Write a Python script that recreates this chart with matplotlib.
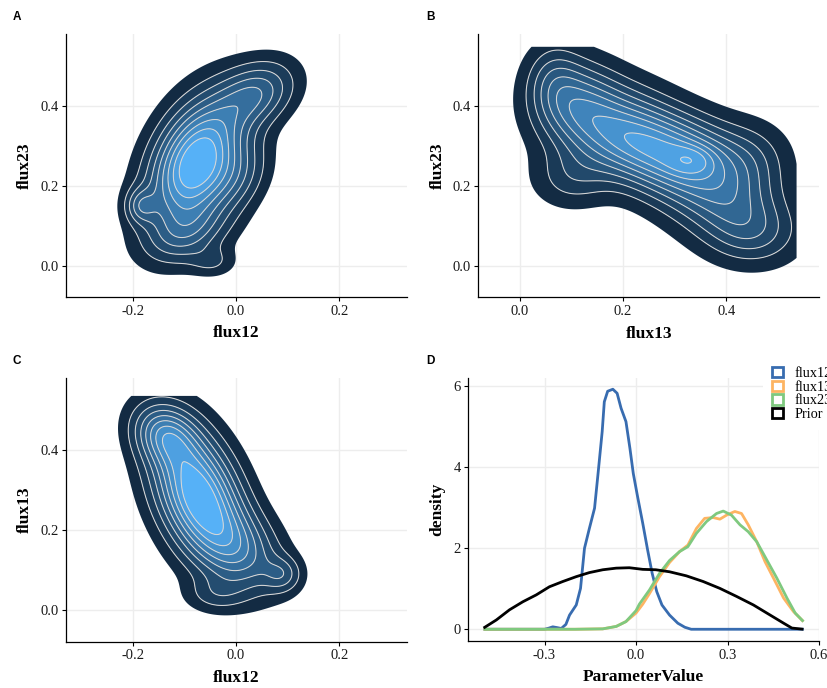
import numpy as np
import matplotlib
matplotlib.use("Agg")
import matplotlib.pyplot as plt
from matplotlib.patches import Patch
from matplotlib.colors import to_rgb

plt.rcParams["axes.unicode_minus"] = False
SERIF = ["Liberation Serif", "DejaVu Serif"]
SANS = ["Liberation Sans", "DejaVu Sans"]

# ---------------- 2D density components ----------------
# Panel A: flux12 (x) vs flux23 (y)
a_mx = [-0.077, 0.040, -0.095, -0.185, 0.005, -0.045]
a_my = [0.258, 0.430, 0.080, 0.150, 0.220, 0.010]
a_sx = [0.060, 0.050, 0.055, 0.020, 0.040, 0.030]
a_sy = [0.105, 0.055, 0.050, 0.030, 0.060, 0.025]
a_rho = [0.38, 0.30, 0.30, 0.0, 0.3, 0.0]
a_w = [0.68, 0.12, 0.08, 0.02, 0.05, 0.012]
a_grid = [-0.32, 0.25, -0.08, 0.60]

# Panel B: flux13 (x) vs flux23 (y)
b_mx = [0.105, 0.170, 0.230, 0.310, 0.360, 0.410, 0.455, 0.335, 0.065, 0.100, 0.450]
b_my = [0.410, 0.360, 0.310, 0.270, 0.220, 0.150, 0.080, 0.265, 0.470, 0.220, 0.270]
b_sx = [0.055, 0.070, 0.070, 0.070, 0.070, 0.065, 0.060, 0.030, 0.035, 0.050, 0.050]
b_sy = [0.070, 0.070, 0.065, 0.065, 0.070, 0.065, 0.055, 0.025, 0.060, 0.050, 0.060]
b_rho = [0.0, 0.0, 0.0, 0.0, 0.0, 0.0, 0.0, 0.0, 0.0, 0.0, 0.0]
b_w = [0.13, 0.16, 0.18, 0.18, 0.13, 0.10, 0.07, 0.01, 0.035, 0.04, 0.04]
b_grid = [-0.06, 0.536, -0.07, 0.548]

# Panel C: flux12 (x) vs flux13 (y)
c_mx = [-0.074, -0.140, 0.010, 0.090, -0.040]
c_my = [0.290, 0.440, 0.150, 0.090, 0.040]
c_sx = [0.058, 0.040, 0.055, 0.025, 0.040]
c_sy = [0.110, 0.050, 0.070, 0.030, 0.030]
c_rho = [-0.40, -0.20, -0.30, 0.0, 0.0]
c_w = [0.66, 0.10, 0.16, 0.02, 0.02]
c_grid = [-0.32, 0.25, -0.08, 0.536]

# contour levels (fraction of the peak density)
a_fill_low = 0.06
a_lines = [0.15, 0.25, 0.35, 0.45, 0.55, 0.65, 0.75, 0.85]
b_fill_low = 0.06
b_lines = [0.16, 0.26, 0.36, 0.46, 0.56, 0.66, 0.76, 0.86, 0.99]
c_fill_low = 0.06
c_lines = [0.15, 0.25, 0.35, 0.45, 0.55, 0.65, 0.75, 0.85]

# ---------------- Panel D: marginal densities ----------------
d_flux12_x = [-0.50, -0.30, -0.285, -0.273, -0.258, -0.245, -0.230, -0.218, -0.196, -0.182,
              -0.169, -0.153, -0.136, -0.125, -0.111, -0.104, -0.093, -0.076, -0.062, -0.049,
              -0.033, -0.020, -0.009, 0.005, 0.022, 0.038, 0.053, 0.068, 0.085, 0.110,
              0.137, 0.160, 0.181, 0.55]
d_flux12_y = [0.0, 0.0, 0.03, 0.06, 0.04, 0.02, 0.12, 0.35, 0.60, 1.01,
              2.00, 2.49, 2.99, 3.81, 4.88, 5.62, 5.88, 5.93, 5.83, 5.46,
              5.13, 4.47, 3.85, 3.28, 2.62, 1.96, 1.38, 0.93, 0.60, 0.35,
              0.15, 0.05, 0.0, 0.0]
d_flux13_x = [-0.50, -0.20, -0.109, -0.065, -0.033, 0.0, 0.022, 0.044, 0.077, 0.110,
              0.143, 0.170, 0.198, 0.225, 0.253, 0.275, 0.297, 0.324, 0.346, 0.368,
              0.396, 0.423, 0.451, 0.484, 0.516, 0.549]
d_flux13_y = [0.0, 0.0, 0.01, 0.07, 0.19, 0.40, 0.62, 0.88, 1.30, 1.65,
              1.92, 2.08, 2.49, 2.74, 2.76, 2.72, 2.82, 2.91, 2.86, 2.58,
              2.16, 1.67, 1.26, 0.77, 0.44, 0.19]
d_flux23_x = [-0.50, -0.20, -0.109, -0.065, -0.033, 0.0, 0.011, 0.044, 0.077, 0.110,
              0.143, 0.170, 0.198, 0.231, 0.264, 0.286, 0.313, 0.341, 0.368, 0.396,
              0.429, 0.462, 0.495, 0.522, 0.549]
d_flux23_y = [0.0, 0.0, 0.01, 0.07, 0.19, 0.46, 0.62, 0.97, 1.38, 1.70,
              1.92, 2.04, 2.37, 2.66, 2.86, 2.92, 2.82, 2.58, 2.41, 2.16,
              1.71, 1.26, 0.77, 0.40, 0.19]
d_prior_x = [-0.50, -0.458, -0.415, -0.371, -0.327, -0.284, -0.240, -0.196, -0.153, -0.109,
             -0.065, -0.022, 0.022, 0.065, 0.110, 0.165, 0.220, 0.275, 0.330, 0.385,
             0.440, 0.484, 0.511, 0.549]
d_prior_y = [0.03, 0.23, 0.48, 0.68, 0.85, 1.05, 1.18, 1.30, 1.40, 1.47,
             1.51, 1.52, 1.48, 1.47, 1.42, 1.32, 1.18, 1.01, 0.81, 0.60,
             0.35, 0.15, 0.03, 0.0]
series_names = ["flux12", "flux13", "flux23", "Prior"]
series_colors = ["#386CB0", "#FDB462", "#7FC97F", "#000000"]

ticks_flux = [-0.2, 0.0, 0.2]
ticks_flux_lab = ["-0.2", "0.0", "0.2"]
ticks_flux13 = [0.0, 0.2, 0.4]
ticks_flux13_lab = ["0.0", "0.2", "0.4"]
ticks_y = [0.0, 0.2, 0.4]
ticks_y_lab = ["0.0", "0.2", "0.4"]
d_xticks = [-0.3, 0.0, 0.3, 0.6]
d_xticks_lab = ["-0.3", "0.0", "0.3", "0.6"]
d_yticks = [0, 2, 4, 6]
d_yticks_lab = ["0", "2", "4", "6"]

LOW = np.array(to_rgb("#132B43"))
HIGH = np.array(to_rgb("#56B1F7"))


def mixture(X, Y, mx, my, sx, sy, rho, w):
    Z = np.zeros_like(X)
    for i in range(len(mx)):
        dx = (X - mx[i]) / sx[i]
        dy = (Y - my[i]) / sy[i]
        r = rho[i]
        q = (dx ** 2 - 2 * r * dx * dy + dy ** 2) / (1 - r ** 2)
        Z += w[i] * np.exp(-0.5 * q) / (2 * np.pi * sx[i] * sy[i] * np.sqrt(1 - r ** 2))
    return Z


def style_axes(ax, xticks, xlab, yticks, ylab):
    for s in ["top", "right"]:
        ax.spines[s].set_visible(False)
    for s in ["left", "bottom"]:
        ax.spines[s].set_linewidth(0.9)
        ax.spines[s].set_color("black")
    ax.set_xticks(xticks)
    ax.set_xticklabels(xlab)
    ax.set_yticks(yticks)
    ax.set_yticklabels(ylab)
    ax.tick_params(length=3, width=0.8, color="black", pad=2.5)
    for t in ax.get_xticklabels() + ax.get_yticklabels():
        t.set_fontfamily(SERIF)
        t.set_fontsize(10.5)
        t.set_color("#1A1A1A")
    ax.grid(True, color="#EDEDED", lw=1.0)
    ax.set_axisbelow(True)


def density_panel(ax, grid, mx, my, sx, sy, rho, w, low, lines):
    xs = np.linspace(grid[0], grid[1], 340)
    ys = np.linspace(grid[2], grid[3], 340)
    X, Y = np.meshgrid(xs, ys)
    Z = mixture(X, Y, mx, my, sx, sy, rho, w)
    Z = Z / Z.max()
    levels = [low] + list(lines) + [1.01]
    n = len(levels) - 1
    cols = [tuple(LOW + (HIGH - LOW) * i / (n - 1)) for i in range(n)]
    ax.contourf(X, Y, Z, levels=levels, colors=cols, zorder=2, antialiased=True)
    ax.contour(X, Y, Z, levels=lines, colors="#D6D6D6", linewidths=0.75, zorder=3)


fig = plt.figure(figsize=(8.27, 6.88), dpi=100)
W, H = 827.0, 688.0


def add_ax(l, r, t, b):
    return fig.add_axes([l / W, 1 - b / H, (r - l) / W, (b - t) / H])


axA = add_ax(66, 406.7, 34, 297)
axB = add_ax(478.3, 819.3, 34, 297)
axC = add_ax(66, 406.7, 378.3, 641.7)
axD = add_ax(468.3, 819.3, 378.3, 641.0)

density_panel(axA, a_grid, a_mx, a_my, a_sx, a_sy, a_rho, a_w, a_fill_low, a_lines)
density_panel(axB, b_grid, b_mx, b_my, b_sx, b_sy, b_rho, b_w, b_fill_low, b_lines)
density_panel(axC, c_grid, c_mx, c_my, c_sx, c_sy, c_rho, c_w, c_fill_low, c_lines)

axA.set_xlim(-0.330, 0.331)
axA.set_ylim(-0.078, 0.58)
axB.set_xlim(-0.080, 0.580)
axB.set_ylim(-0.078, 0.58)
axC.set_xlim(-0.330, 0.331)
axC.set_ylim(-0.078, 0.58)

style_axes(axA, ticks_flux, ticks_flux_lab, ticks_y, ticks_y_lab)
style_axes(axB, ticks_flux13, ticks_flux13_lab, ticks_y, ticks_y_lab)
style_axes(axC, ticks_flux, ticks_flux_lab, ticks_y, ticks_y_lab)

# Panel D
curves = [(d_flux12_x, d_flux12_y), (d_flux13_x, d_flux13_y),
          (d_flux23_x, d_flux23_y), (d_prior_x, d_prior_y)]
for (cx, cy), col in zip(curves, series_colors):
    axD.plot(cx, cy, color=col, lw=2.0, solid_capstyle="butt", solid_joinstyle="round", zorder=3)
axD.set_xlim(-0.55, 0.601)
axD.set_ylim(-0.29, 6.2)
style_axes(axD, d_xticks, d_xticks_lab, d_yticks, d_yticks_lab)

lab_font = dict(family=SERIF, fontsize=12.5, fontweight="bold")
for ax, xl, yl, xc, yc in [
    (axA, "flux12", "flux23", -0.106, -0.120),
    (axB, "flux13", "flux23", -0.110, -0.120),
    (axC, "flux12", "flux13", -0.106, -0.120),
    (axD, "ParameterValue", "density", -0.108, -0.089),
]:
    ax.set_xlabel(xl, **lab_font)
    ax.set_ylabel(yl, **lab_font)
    ax.xaxis.set_label_coords(0.5, xc)
    ax.yaxis.set_label_coords(yc, 0.5)
    ax.xaxis.label.set_va("top")
    ax.yaxis.label.set_va("center")

for letter, x, y in [("A", 17, 17), ("B", 430, 17), ("C", 17, 361), ("D", 430, 361)]:
    fig.text(x / W, 1 - y / H, letter, family=SANS, fontweight="bold", fontsize=8.5,
             ha="center", va="center")

handles = [Patch(facecolor="white", edgecolor=c, linewidth=2.0) for c in series_colors]
leg = fig.legend(handles, series_names, loc="upper left",
                 bbox_to_anchor=(763 / W, 1 - 358 / H), frameon=True, fancybox=False,
                 borderpad=0.65, borderaxespad=0.0, handlelength=0.72, handleheight=0.72,
                 handletextpad=0.85, labelspacing=0.03,
                 prop=dict(family=SERIF, size=10.3))
leg.get_frame().set_facecolor("white")
leg.get_frame().set_edgecolor("none")
leg.get_frame().set_alpha(1.0)

fig.savefig("out.png", dpi=100)
